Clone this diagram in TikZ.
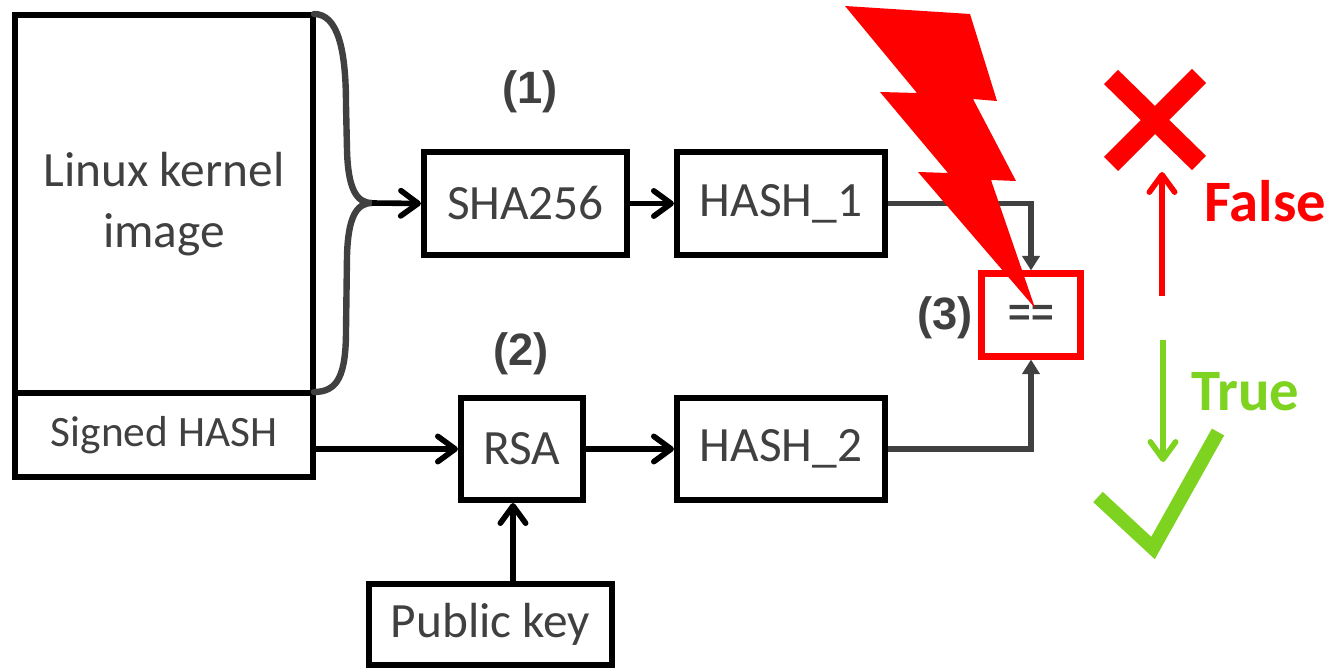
\documentclass[tikz,border=0pt]{standalone}
\usepackage{fontspec}
\setmainfont{Carlito}
\newfontfamily\labfont{Liberation Sans}
\usetikzlibrary{arrows.meta}
\definecolor{dgray}{HTML}{404040}
\definecolor{okgreen}{RGB}{126,210,32}
\definecolor{badred}{HTML}{FF0000}
\tikzset{
  px/.style={x=0.75pt,y=-0.75pt},
  boxnode/.style={draw=black,line width=4.6pt,text=dgray,inner sep=0pt,
    font=\fontsize{37}{46}\selectfont,align=center},
  numlabel/.style={text=dgray,font=\labfont\bfseries\fontsize{34}{40}\selectfont,inner sep=0pt},
  flow/.style={line width=4.2pt,black,-{Straight Barb[length=13pt,width=19pt,round]}},
  cmp/.style={line width=4.2pt,dgray,-{Triangle[length=11pt,width=13pt]}},
  outcome/.style={line width=4.2pt,-{Straight Barb[length=13pt,width=19pt,round]}},
  result/.style={font=\bfseries\fontsize{44}{50}\selectfont,inner sep=0pt,anchor=base west}
}
\begin{document}
\begin{tikzpicture}[px]
\useasboundingbox (0,0) rectangle (1330,670);
% boxes
\node[boxnode,minimum width=298*0.75pt,minimum height=378*0.75pt] (kernel) at (164,204) {Linux kernel\\image};
\node[boxnode,minimum width=298*0.75pt,minimum height=84*0.75pt,font=\fontsize{32.5}{40}\selectfont] (signed) at (164,435) {Signed HASH};
\node[boxnode,minimum width=203*0.75pt,minimum height=103*0.75pt] (sha) at (525.5,203.5) {SHA256};
\node[boxnode,minimum width=208*0.75pt,minimum height=103*0.75pt] (hash1) at (781,203.5) {HASH\_1};
\node[boxnode,minimum width=122*0.75pt,minimum height=102*0.75pt] (rsa) at (522,449) {RSA};
\node[boxnode,minimum width=208*0.75pt,minimum height=102*0.75pt] (hash2) at (781,449) {HASH\_2};
\node[boxnode,minimum width=243*0.75pt,minimum height=81*0.75pt] (pk) at (490.5,624.5) {Public key};
\node[boxnode,draw=badred,line width=4.6pt,minimum width=99*0.75pt,minimum height=83*0.75pt,
  font=\labfont\bfseries\fontsize{29}{32}\selectfont] (eq) at (1031,315) {==};
% labels
\node[numlabel] (l1) at (530,92) {(1)};
\node[numlabel] (l2) at (521,354) {(2)};
\node[numlabel] (l3) at (945,318) {(3)};
% brace
\coordinate (brtop) at (314,14);
\coordinate (brtip) at (372,203);
\coordinate (brbot) at (314,392);
\draw[dgray,line width=4.8pt,line cap=round]
  (brtop) .. controls (338,14) and (346,50) .. (346,105)
  -- (347,150) .. controls (348,188) and (356,203) .. (brtip)
  .. controls (356,203) and (348,218) .. (347,256)
  -- (346,330) .. controls (346,375) and (338,392) .. (brbot);
% connectors
\draw[flow] (brtip) -- (sha.west);
\draw[flow] (sha.east) -- (hash1.west);
\draw[flow] (signed.east |- rsa.west) -- (rsa.west);
\draw[flow] (rsa.east) -- (hash2.west);
\coordinate (pkx) at (513,0);
\draw[flow] (pk.north -| pkx) -- (rsa.south -| pkx);
\draw[cmp] (hash1.east) -| (eq.north);
\draw[cmp] (hash2.east) -| (eq.south);
% lightning
\fill[badred] (845,6) -- (970,14) -- (997,101) -- (973,99) -- (1016,181) -- (991,180)
  -- (1035,308) -- (918,172) -- (948,173) -- (880,92) -- (917,93) -- cycle;
% outcomes
\coordinate (fbot) at (1162,296);
\coordinate (ftop) at (1162,172);
\draw[outcome,badred] (fbot) -- (ftop);
\coordinate (ttop) at (1163,340);
\coordinate (tbot) at (1163,462);
\draw[outcome,okgreen] (ttop) -- (tbot);
\node[result,text=badred] (false) at (1204,222) {False};
\node[result,text=okgreen] (true) at (1191,410) {True};
% cross
\draw[badred,line width=15pt,line cap=butt] (1111,77) -- (1199,163);
\draw[badred,line width=15pt,line cap=butt] (1199,76) -- (1111,164);
% check
\draw[okgreen,line width=10.5pt,line cap=butt,line join=miter] (1218,432) -- (1153,548) -- (1098,497);
\end{tikzpicture}
\end{document}
